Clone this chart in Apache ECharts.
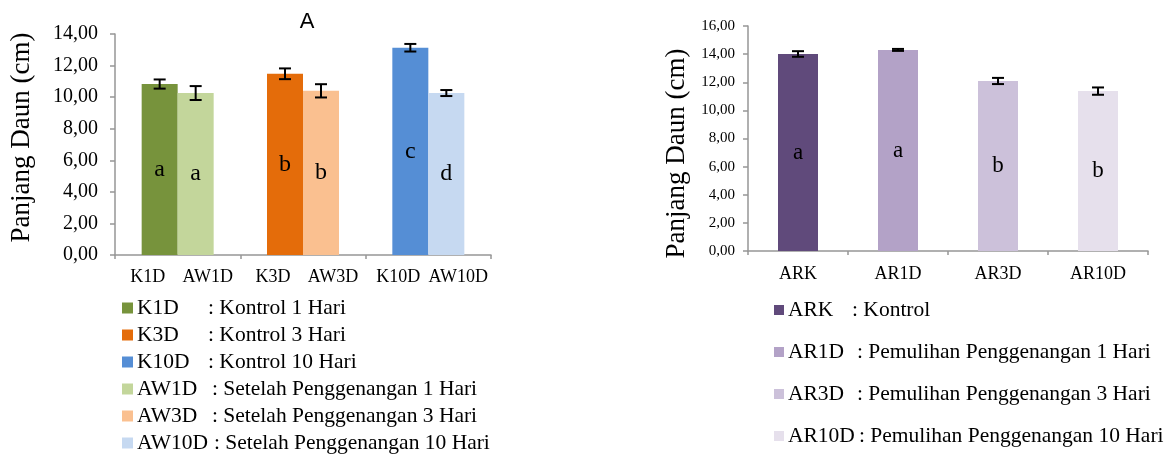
<!DOCTYPE html>
<html>
<head>
<meta charset="utf-8">
<script src="https://cdn.jsdelivr.net/npm/echarts@6/dist/echarts.min.js"></script>
<style>
  html, body { margin: 0; padding: 0; background: #ffffff; }
  #chart { width: 1167px; height: 460px; }
</style>
</head>
<body>
<div id="chart"></div>
<script>
// Panel A: control (K) vs after waterlogging (AW), grouped by duration
const groups = ['1D', '3D', '10D'];
const kLabels = ['K1D', 'K3D', 'K10D'];
const awLabels = ['AW1D', 'AW3D', 'AW10D'];
const kMean = [10.83, 11.48, 13.13];
const kErr = [0.29, 0.34, 0.24];
const awMean = [10.26, 10.40, 10.26];
const awErr = [0.44, 0.42, 0.19];
const kLetters = ['a', 'b', 'c'];
const awLetters = ['a', 'b', 'd'];
const kColors = ['#77933C', '#E46C0A', '#558ED5'];
const awColors = ['#C3D69B', '#FAC090', '#C6D9F1'];
const leftTicks = [0, 2, 4, 6, 8, 10, 12, 14];

// Panel B: recovery after waterlogging
const arLabels = ['ARK', 'AR1D', 'AR3D', 'AR10D'];
const arMean = [14.01, 14.30, 12.09, 11.37];
const arErr = [0.20, 0.07, 0.22, 0.26];
const arLetters = ['a', 'a', 'b', 'b'];
const arColors = ['#604A7B', '#B3A2C7', '#CCC1DA', '#E6E0EC'];
const rightTicks = [0, 2, 4, 6, 8, 10, 12, 14, 16];

// Legend entries
const leftLegendCodes = ['K1D', 'K3D', 'K10D', 'AW1D', 'AW3D', 'AW10D'];
const leftLegendText = [': Kontrol 1 Hari', ': Kontrol 3 Hari', ': Kontrol 10 Hari',
  ': Setelah Penggenangan 1 Hari', ': Setelah Penggenangan 3 Hari', ': Setelah Penggenangan 10 Hari'];
const leftLegendColors = kColors.concat(awColors);
const rightLegendCodes = ['ARK', 'AR1D', 'AR3D', 'AR10D'];
const rightLegendText = [': Kontrol', ': Pemulihan Penggenangan 1 Hari',
  ': Pemulihan Penggenangan 3 Hari', ': Pemulihan Penggenangan 10 Hari'];

const SERIF = 'Liberation Serif';
const AXIS_COLOR = '#969696';
const LEFT_BAR_W = 36;
const RIGHT_BAR_W = 40;

function fmt(v) { return v.toFixed(2).replace('.', ','); }

function errorBars(xAxisIndex, yAxisIndex, means, errs, offset, capW) {
  return {
    type: 'custom',
    xAxisIndex: xAxisIndex,
    yAxisIndex: yAxisIndex,
    z: 10,
    silent: true,
    data: means.map((m, i) => [i, m, errs[i]]),
    encode: { x: 0, y: 1 },
    renderItem: function (params, api) {
      const i = api.value(0), m = api.value(1), e = api.value(2);
      const x = api.coord([i, m])[0] + offset;
      const yHi = api.coord([i, m + e])[1];
      const yLo = api.coord([i, m - e])[1];
      const st = { stroke: '#000000', lineWidth: 2 };
      return {
        type: 'group',
        children: [
          { type: 'line', shape: { x1: x, y1: yHi, x2: x, y2: yLo }, style: st },
          { type: 'line', shape: { x1: x - capW / 2, y1: yHi, x2: x + capW / 2, y2: yHi }, style: st },
          { type: 'line', shape: { x1: x - capW / 2, y1: yLo, x2: x + capW / 2, y2: yLo }, style: st }
        ]
      };
    }
  };
}

function letterLabel(letters, size) {
  return {
    show: true,
    position: 'inside',
    formatter: p => letters[p.dataIndex],
    fontFamily: SERIF,
    fontSize: size,
    color: '#000000'
  };
}

function legendGraphics(codes, texts, colors, x0, y0, step, sq, textX, colonX, fontSize) {
  const out = [];
  codes.forEach((c, i) => {
    const y = y0 + i * step;
    out.push({ type: 'rect', left: x0, top: y - sq / 2, shape: { width: sq, height: sq }, style: { fill: colors[i] } });
    out.push({ type: 'text', x: textX, y: y, style: { text: c, fontFamily: SERIF, fontSize: fontSize, fill: '#000000', verticalAlign: 'middle', align: 'left' } });
    out.push({ type: 'text', x: colonX[i], y: y, style: { text: texts[i], fontFamily: SERIF, fontSize: fontSize, fill: '#000000', verticalAlign: 'middle', align: 'left' } });
  });
  return out;
}

const chart = echarts.init(document.getElementById('chart'), null, { renderer: 'canvas' });

const axisLine = { show: true, lineStyle: { color: AXIS_COLOR, width: 1.5 } };

const option = {
  backgroundColor: '#ffffff',
  animation: false,
  title: {
    text: 'A',
    left: 302,
    top: 6,
    textAlign: 'center',
    textStyle: { fontFamily: 'Liberation Sans', fontSize: 22, fontWeight: 'normal', color: '#000000' }
  },
  grid: [
    { left: 115, top: 34, width: 376, height: 221 },
    { left: 748, top: 26, width: 400, height: 225 }
  ],
  xAxis: [
    {
      type: 'category', gridIndex: 0, data: groups,
      axisLine: axisLine,
      axisTick: { show: true, length: 4, lineStyle: { color: AXIS_COLOR, width: 1.5 } },
      axisLabel: {
        interval: 0,
        margin: 13,
        formatter: (v, i) => '{k|' + kLabels[i] + '}{w|' + awLabels[i] + '}',
        rich: {
          k: { width: 60, align: 'center', fontFamily: SERIF, fontSize: 18, color: '#000000' },
          w: { width: 60, align: 'center', fontFamily: SERIF, fontSize: 18, color: '#000000' }
        }
      }
    },
    {
      type: 'category', gridIndex: 1, data: arLabels,
      axisLine: axisLine,
      axisTick: { show: true, length: 4, lineStyle: { color: AXIS_COLOR, width: 1.5 } },
      axisLabel: { interval: 0, margin: 14, fontFamily: SERIF, fontSize: 18, color: '#000000' }
    }
  ],
  yAxis: [
    {
      type: 'value', gridIndex: 0, min: leftTicks[0], max: leftTicks[leftTicks.length - 1], interval: 2,
      name: 'Panjang Daun (cm)', nameLocation: 'middle', nameGap: 80,
      nameTextStyle: { fontFamily: SERIF, fontSize: 27, color: '#000000', padding: [0, 0, 0, 14] },
      axisLine: axisLine,
      axisTick: { show: true, length: 5, lineStyle: { color: AXIS_COLOR, width: 1.5 } },
      splitLine: { show: false },
      axisLabel: { margin: 17, formatter: fmt, fontFamily: SERIF, fontSize: 20, color: '#000000' }
    },
    {
      type: 'value', gridIndex: 1, min: rightTicks[0], max: rightTicks[rightTicks.length - 1], interval: 2,
      name: 'Panjang Daun (cm)', nameLocation: 'middle', nameGap: 58,
      nameTextStyle: { fontFamily: SERIF, fontSize: 27, color: '#000000', padding: [0, 30, 0, 0] },
      axisLine: axisLine,
      axisTick: { show: true, length: 5, lineStyle: { color: AXIS_COLOR, width: 1.5 } },
      splitLine: { show: false },
      axisLabel: { margin: 13, formatter: fmt, fontFamily: SERIF, fontSize: 15, color: '#000000' }
    }
  ],
  series: [
    {
      name: 'K', type: 'bar', xAxisIndex: 0, yAxisIndex: 0,
      barWidth: LEFT_BAR_W, barGap: '0%',
      data: kMean.map((v, i) => ({ value: v, itemStyle: { color: kColors[i] } })),
      label: letterLabel(kLetters, 24)
    },
    {
      name: 'AW', type: 'bar', xAxisIndex: 0, yAxisIndex: 0,
      barWidth: LEFT_BAR_W, barGap: '0%',
      data: awMean.map((v, i) => ({ value: v, itemStyle: { color: awColors[i] } })),
      label: letterLabel(awLetters, 24)
    },
    errorBars(0, 0, kMean, kErr, -LEFT_BAR_W / 2, 12),
    errorBars(0, 0, awMean, awErr, LEFT_BAR_W / 2, 12),
    {
      name: 'AR', type: 'bar', xAxisIndex: 1, yAxisIndex: 1,
      barWidth: RIGHT_BAR_W,
      data: arMean.map((v, i) => ({ value: v, itemStyle: { color: arColors[i] } })),
      label: letterLabel(arLetters, 23)
    },
    errorBars(1, 1, arMean, arErr, 0, 12)
  ],
  graphic: legendGraphics(leftLegendCodes, leftLegendText, leftLegendColors,
      122, 308, 27, 11, 137, [208, 208, 208, 212, 212, 214], 21.5)
    .concat(legendGraphics(rightLegendCodes, rightLegendText, arColors,
      774, 310, 42, 10, 788, [852, 857, 857, 859], 21.5))
};

chart.setOption(option);
</script>
</body>
</html>
